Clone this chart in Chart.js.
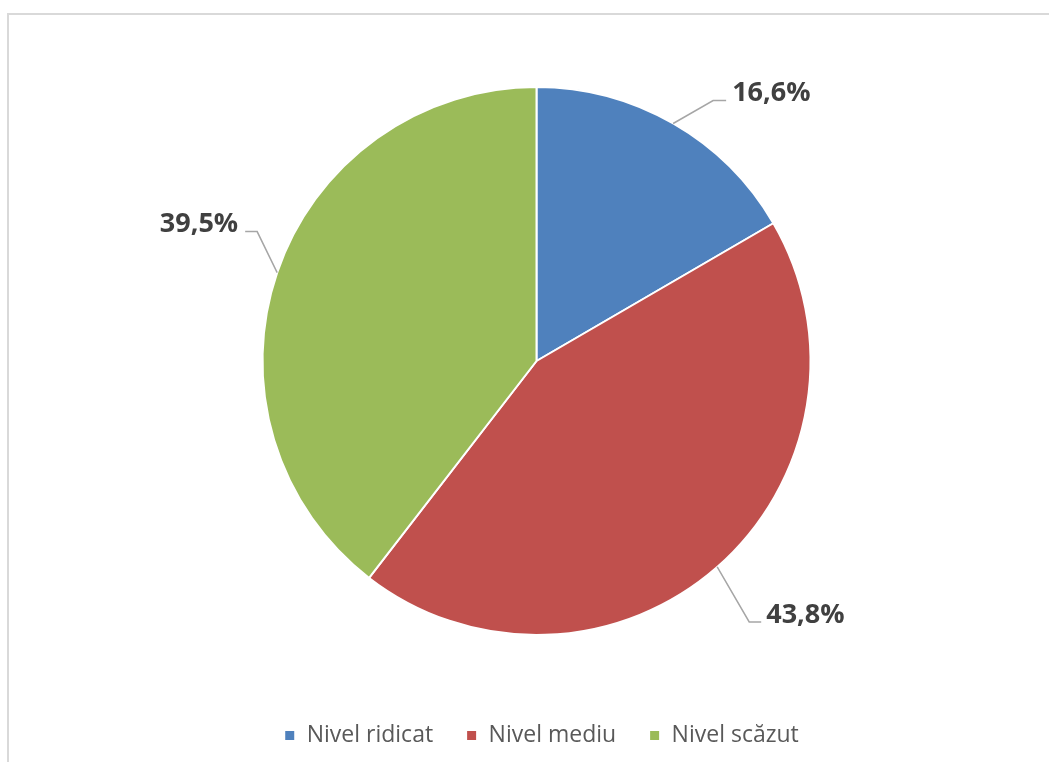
<!DOCTYPE html>
<html>
<head>
<meta charset="utf-8">
<script src="https://cdn.jsdelivr.net/npm/chart.js@4/dist/chart.umd.min.js"></script>
<style>
  html, body { margin: 0; padding: 0; background: #fff; }
  #wrap { position: relative; width: 1049px; height: 762px; overflow: hidden; }
  #frame { position: absolute; left: 7px; top: 13px; width: 1100px; height: 800px;
           border-top: 2px solid #d9d9d9; border-left: 2px solid #d9d9d9; box-sizing: border-box; }
  canvas { position: absolute; left: 0; top: 0; }
</style>
</head>
<body>
<div id="wrap">
  <div id="frame"></div>
  <canvas id="c" width="1049" height="762"></canvas>
</div>
<script>
const categories = ['Nivel ridicat', 'Nivel mediu', 'Nivel scăzut'];
const values = [16.6, 43.8, 39.5];
const valueLabels = ['16,6%', '43,8%', '39,5%'];
const colors = ['#4F81BD', '#C0504D', '#9BBB59'];

// leader-line geometry per slice: elbow offset from edge, end offset from elbow, text offset from end, alignment
const leaderStyle = [
  { elbow: [40, -23], end: [13, 0], text: [6, -7], align: 'left' },
  { elbow: [32, 55], end: [12, 0], text: [5, -7], align: 'left' },
  { elbow: [-20, -41], end: [-12, 0], text: [-7, -7], align: 'right' }
];

const labelPlugin = {
  id: 'outLabels',
  afterDatasetsDraw(chart) {
    const ctx = chart.ctx;
    const meta = chart.getDatasetMeta(0);
    meta.data.forEach((arc, i) => {
      const p = arc.getProps(['x', 'y', 'startAngle', 'endAngle', 'outerRadius'], true);
      const mid = (p.startAngle + p.endAngle) / 2;
      const ex = p.x + Math.cos(mid) * p.outerRadius;
      const ey = p.y + Math.sin(mid) * p.outerRadius;
      const s = leaderStyle[i];
      const bx = ex + s.elbow[0], by = ey + s.elbow[1];
      const cx = bx + s.end[0], cy = by + s.end[1];
      ctx.save();
      ctx.strokeStyle = '#a6a6a6';
      ctx.lineWidth = 1.5;
      ctx.beginPath();
      ctx.moveTo(ex, ey);
      ctx.lineTo(bx, by);
      ctx.lineTo(cx, cy);
      ctx.stroke();
      ctx.fillStyle = '#404040';
      ctx.font = 'bold 27px "Open Sans"';
      ctx.textAlign = s.align;
      ctx.textBaseline = 'middle';
      ctx.fillText(valueLabels[i], cx + s.text[0], cy + s.text[1]);
      ctx.restore();
    });
  }
};

// small horizontal nudge of the legend block
const legendShift = {
  id: 'legendShift',
  afterLayout(chart) {
    const lg = chart.legend;
    if (lg) { lg.left += 5; lg.right += 5; }
  }
};

new Chart(document.getElementById('c'), {
  type: 'pie',
  data: {
    labels: categories,
    datasets: [{
      data: values,
      backgroundColor: colors,
      borderColor: '#ffffff',
      borderWidth: 2
    }]
  },
  options: {
    responsive: false,
    animation: false,
    radius: 274,
    layout: { padding: { left: 24, right: 0, top: 31, bottom: 5 } },
    plugins: {
      tooltip: { enabled: false },
      legend: {
        position: 'bottom',
        labels: {
          boxWidth: 11,
          boxHeight: 11,
          padding: 33,
          color: '#595959',
          font: { family: '"Open Sans"', size: 23 }
        }
      }
    }
  },
  plugins: [labelPlugin, legendShift]
});
</script>
</body>
</html>
